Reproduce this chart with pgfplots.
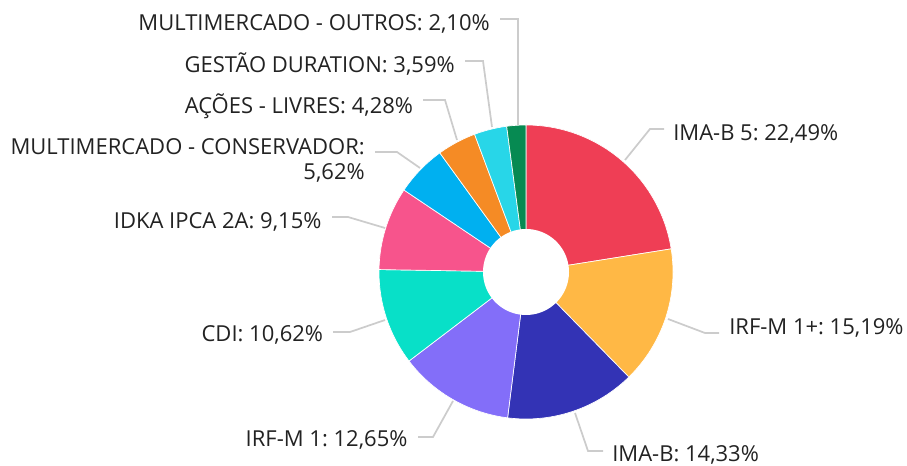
\documentclass[border=0pt]{standalone}
\usepackage{pgfplots}
\usepackage{pgfplotstable}
\pgfplotsset{compat=1.18}
\usepackage{fontspec}
\setmainfont{Open Sans}
\frenchspacing
\definecolor{c0}{HTML}{EF3E55}
\definecolor{c1}{HTML}{FFB845}
\definecolor{c2}{HTML}{3333B5}
\definecolor{c3}{HTML}{836EF9}
\definecolor{c4}{HTML}{08E0C8}
\definecolor{c5}{HTML}{F7548C}
\definecolor{c6}{HTML}{00B0F0}
\definecolor{c7}{HTML}{F58B25}
\definecolor{c8}{HTML}{28D6E8}
\definecolor{c9}{HTML}{068A52}
\definecolor{leader}{HTML}{CCCCCC}
\definecolor{txt}{HTML}{222222}
\tikzset{lbl/.style={font=\fontsize{16.5}{19}\selectfont\frenchspacing, text=txt, inner sep=0pt}}
\pgfplotsset{ldr/.style={draw=leader, line width=1.3pt, mark=none, solid}}
\pgfplotstableread{
v
22.49
15.19
14.33
12.65
10.62
9.15
5.62
4.28
3.59
2.10
}\data
\def\acc{0}%
\foreach \i in {0,...,9}{%
  \pgfplotstablegetelem{\i}{v}\of\data
  \pgfmathsetmacro\new{\acc+\pgfplotsretval}%
  \expandafter\xdef\csname s\i\endcsname{\acc}%
  \expandafter\xdef\csname e\i\endcsname{\new}%
  \xdef\acc{\new}%
}%
\pgfmathsetmacro\scl{360/\acc}%
\begin{document}%
\begin{tikzpicture}
\begin{axis}[
  scale only axis, width=680.25pt, height=349.5pt,
  xmin=0, xmax=907, ymin=0, ymax=466, y dir=reverse,
  hide axis, clip=false,
]
\coordinate (bl) at (axis cs:0,466);
\coordinate (tr) at (axis cs:907,0);
\pgfplotsinvokeforeach{0,...,9}{
  \addplot[fill=c#1, draw=white, line width=0.5pt, no marks, variable=\t, samples=80,
    domain={\csname s#1\endcsname*\scl}:{\csname e#1\endcsname*\scl}]
    ({526+147*sin(\t)},{272-147*cos(\t)}) -- (axis cs:526,272) -- cycle;
}
\addplot[fill=white, draw=none, no marks, variable=\t, samples=120, domain=0:360]
  ({526+43*sin(\t)},{272-43*cos(\t)}) -- cycle;
% leader lines
\addplot[ldr] coordinates {(625,160) (650,129) (664,129)};
\addplot[ldr] coordinates {(668,319) (705,333) (719,333)};
\addplot[ldr] coordinates {(575,413) (588,451) (603,451)};
\addplot[ldr] coordinates {(453,401) (433,437) (418,437)};
\addplot[ldr] coordinates {(385,320) (350,332) (333,332)};
\addplot[ldr] coordinates {(385,228) (348,217) (332,217)};
\addplot[ldr] coordinates {(420,168) (397,152) (375,152)};
\addplot[ldr] coordinates {(457,140) (445,100) (423,100)};
\addplot[ldr] coordinates {(492,127) (483,61) (465,61)};
\addplot[ldr] coordinates {(518,125) (518,19) (500,19)};
% labels
\node[lbl, anchor=base west] at (axis cs:673,140.7) {IMA-B 5: 22,49\%};
\node[lbl, anchor=base west] at (axis cs:729,335) {IRF-M 1+: 15,19\%};
\node[lbl, anchor=base west] at (axis cs:612,461.7) {IMA-B: 14,33\%};
\node[lbl, anchor=base east] at (axis cs:407.7,447) {IRF-M 1: 12,65\%};
\node[lbl, anchor=base east] at (axis cs:323.3,342) {CDI: 10,62\%};
\node[lbl, anchor=base east] at (axis cs:321.7,228.3) {IDKA IPCA 2A: 9,15\%};
\node[lbl, anchor=base east] at (axis cs:365,154.3) {MULTIMERCADO - CONSERVADOR:};
\node[lbl, anchor=base east] at (axis cs:365,180) {5,62\%};
\node[lbl, anchor=base east] at (axis cs:413.3,113.3) {AÇÕES - LIVRES: 4,28\%};
\node[lbl, anchor=base east] at (axis cs:455,72.7) {GESTÃO DURATION: 3,59\%};
\node[lbl, anchor=base east] at (axis cs:490,30.7) {MULTIMERCADO - OUTROS: 2,10\%};
\end{axis}
\pgfresetboundingbox
\path (bl) rectangle (tr);
\end{tikzpicture}%
\end{document}
